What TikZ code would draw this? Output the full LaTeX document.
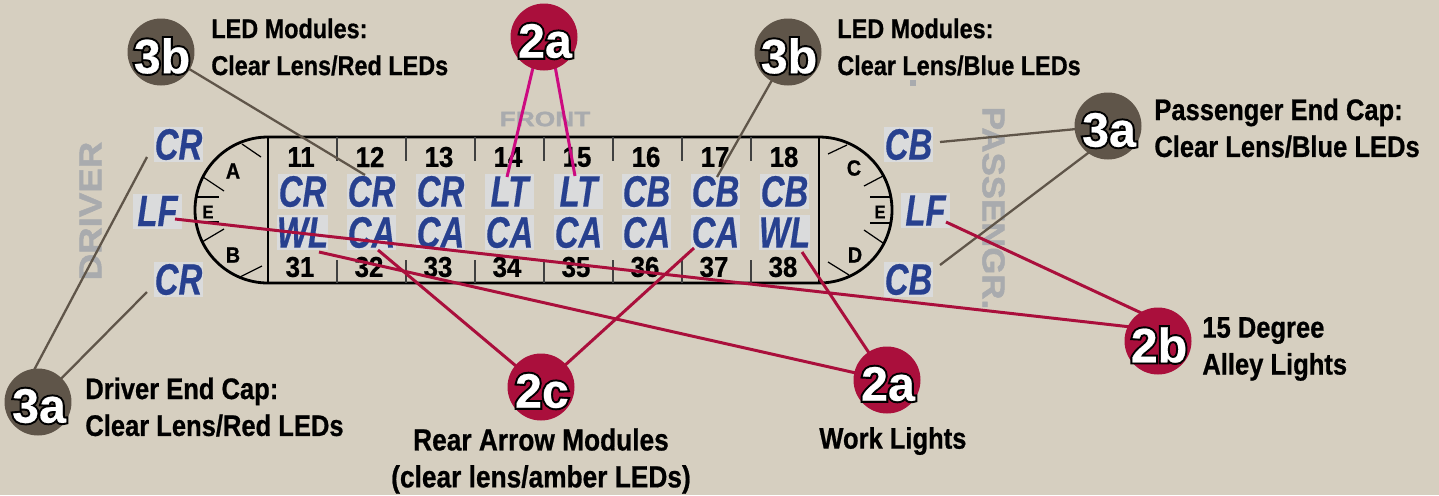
\documentclass[tikz,border=0pt]{standalone}
\usepackage{fontspec}
\setmainfont{Liberation Sans}
\newfontfamily\capfont[FakeStretch=0.86,FakeBold=0.7]{Liberation Sans}
\newfontfamily\numfont[FakeStretch=0.9,FakeBold=0.8]{Liberation Sans}
\newfontfamily\frontfont[FakeStretch=1.27,FakeBold=1.5]{Liberation Sans}
\newfontfamily\driverfont[FakeStretch=1.16,FakeBold=1.5]{Liberation Sans}
\newfontfamily\passfont[FakeStretch=1.1,FakeBold=1.5]{Liberation Sans}
\newfontfamily\tagfont[FakeStretch=0.75,FakeBold=0.4]{Liberation Sans}
\newfontfamily\badgefont[FakeBold=0.5]{Liberation Sans}
\newfontfamily\outlinefont[FakeBold=9]{Liberation Sans}
\definecolor{bgc}{HTML}{D6CFC0}
\definecolor{brownc}{HTML}{5F5549}
\definecolor{redc}{HTML}{AA0F3C}
\definecolor{pinkc}{HTML}{CC0A80}
\definecolor{bluec}{HTML}{27408F}
\definecolor{tagc}{HTML}{DADBDC}
\definecolor{greyc}{HTML}{A9ABAE}
\tikzset{x=0.02cm,y=-0.02cm,
 badge/.style={circle,minimum size=1.34cm,inner sep=0pt},
 brownbadge/.style={badge,fill=brownc},
 redbadge/.style={badge,fill=redc},
 badgetxt/.style={font=\badgefont\bfseries\fontsize{27.5}{28}\selectfont,text=white,inner sep=0pt,xshift=0.02cm,yshift=-0.08cm},
 badgeout/.style={font=\outlinefont\bfseries\fontsize{27.5}{28}\selectfont,text=black,inner sep=0pt,xshift=0.02cm,yshift=-0.08cm},
 capt/.style={font=\capfont\bfseries\fontsize{16.9}{21}\selectfont,align=left,anchor=west,inner sep=0pt},
 captsmall/.style={capt,font=\capfont\bfseries\fontsize{15.5}{21}\selectfont},
 captbig/.style={capt,font=\capfont\bfseries\fontsize{17.4}{21}\selectfont,anchor=center,align=center},
 num/.style={font=\numfont\bfseries\fontsize{16.3}{16}\selectfont,inner sep=0pt},
 tagn/.style={fill=tagc,minimum width=0.98cm,minimum height=0.7cm,inner sep=0pt,text=bluec,font=\tagfont\bfseries\itshape\fontsize{25}{25}\selectfont},
 lett/.style={font=\numfont\bfseries\fontsize{12.5}{12}\selectfont,inner sep=0pt},
 lettsmall/.style={font=\numfont\bfseries\fontsize{10.5}{10}\selectfont,inner sep=0pt},
 brownl/.style={draw=brownc,line width=1.3pt},
 redl/.style={draw=redc,line width=1.7pt},
 pinkl/.style={draw=pinkc,line width=1.7pt},
 bodyl/.style={line width=1.6pt},
 divl/.style={line width=.7pt,draw=black!75},
 tickl/.style={line width=.7pt},
 grl/.style={text=greyc,inner sep=0pt},
}
\begin{document}
\begin{tikzpicture}
\useasboundingbox (0,0) rectangle (1439,495);
\fill[bgc] (0,0) rectangle (1439,495);
% grey labels
\node[grl,font=\frontfont\bfseries\fontsize{11.8}{12}\selectfont] (front) at (545,119) {FRONT};
\node[grl,font=\driverfont\bfseries\fontsize{18}{18}\selectfont,rotate=90] (driver) at (90.5,211) {DRIVER};
\node[grl,font=\passfont\bfseries\fontsize{18}{18}\selectfont,rotate=-90] (pass) at (993.5,208) {PASSENGR.};
\fill[greyc] (910,80) rectangle (916,86);
% body
\draw[bodyl] (268,137) -- (819,137) arc[start angle=-90,end angle=90,radius=73] -- (268,283) arc[start angle=90,end angle=270,radius=73] -- cycle;
\draw[bodyl] (268,137)--(268,283) (819,137)--(819,283);
\foreach \xx in {337,406,475,544,613,682,751}{
 \draw[divl] (\xx,137)--(\xx,161) (\xx,260)--(\xx,283);}
% cap ticks
\foreach \a/\b/\c/\d in {242/144/261/157, 203/177/224/191, 196/197/219/197, 196/222/219/222, 202/242/224/229, 240/277/262/266,
 847/145/828/154, 883/176/864/186, 892/197/870/197, 891/223/870/223, 883/243/864/230, 849/275/828/262}{
 \draw[tickl] (\a,\b)--(\c,\d);}
\node[lett] (la) at (233,171) {A};
\node[lett] (lb) at (233,255) {B};
\node[lettsmall] (le) at (208,212) {E};
\node[lett] (lc) at (854,168) {C};
\node[lett] (ld) at (855,255) {D};
\node[lettsmall] (lf) at (880,212) {E};
% numbers
\foreach \n [count=\i from 0] in {11,12,13,14,15,16,17,18}{
 \node[num] (n\n) at ({301+\i*69},157) {\n};}
\foreach \n [count=\i from 0] in {31,32,33,34,35,36,37,38}{
 \node[num] (n\n) at ({300+\i*69},267) {\n};}
% tags
\foreach \t/\x [count=\i from 11] in {CR/302.5,CR/371.5,CR/440.5,LT/509.5,LT/578.5,CB/646.5,CB/715.5,CB/784.5}{
 \node[tagn] (t\i) at (\x,191.5) {\t};}
\foreach \t/\x [count=\i from 31] in {WL/302.5,CA/371.5,CA/440.5,CA/509.5,CA/578.5,CA/646.5,CA/715.5,WL/784.5}{
 \node[tagn] (t\i) at (\x,232.5) {\t};}
\node[tagn] (dcra) at (178.5,144.5) {CR};
\node[tagn] (dlf) at (157.5,211) {LF};
\node[tagn] (dcrb) at (178.5,279.5) {CR};
\node[tagn] (pcba) at (908.5,144.5) {CB};
\node[tagn] (plf) at (925.5,210.5) {LF};
\node[tagn] (pcbb) at (908.5,279.5) {CB};
% connector ends
\coordinate (e1) at (365,175);
\coordinate (e2) at (717,177);
\coordinate (e3) at (940,142);
\coordinate (e4) at (940,265);
\coordinate (s4) at (1100,144);
\coordinate (e5) at (147,157);
\coordinate (s5) at (33,372);
\coordinate (e6) at (147,292);
\coordinate (e7) at (507,177);
\coordinate (s7) at (536,55);
\coordinate (e8) at (575,176);
\coordinate (s8) at (553,55);
\coordinate (e9) at (175,219);
\coordinate (s9) at (1140,328);
\coordinate (e10) at (946,222);
\coordinate (s10) at (1150,317);
\coordinate (e11) at (319,252);
\coordinate (e12) at (802,252);
\coordinate (e13) at (378,250);
\coordinate (e14) at (694,248);
% connectors
\draw[brownl] (161,52) -- (e1);
\draw[brownl] (788,52) -- (e2);
\draw[brownl] (1108,126) -- (e3);
\draw[brownl] (s4) -- (e4);
\draw[brownl] (s5) -- (e5);
\draw[brownl] (38,402) -- (e6);
\draw[pinkl] (s7) -- (e7);
\draw[pinkl] (s8) -- (e8);
\draw[redl] (s9) -- (e9);
\draw[redl] (s10) -- (e10);
\draw[redl] (887,380) -- (e11);
\draw[redl] (887,380) -- (e12);
\draw[redl] (541,387) -- (e13);
\draw[redl] (541,387) -- (e14);
% badges
\node[brownbadge] (b3bl) at (161,52) {};
\node[redbadge] (b2at) at (544,37) {};
\node[brownbadge] (b3br) at (788,52) {};
\node[brownbadge] (b3ar) at (1108,126) {};
\node[redbadge] (b2b) at (1158,341) {};
\node[redbadge] (b2ab) at (887,380) {};
\node[redbadge] (b2c) at (541,387) {};
\node[brownbadge] (b3al) at (38,402) {};
% badge text
\foreach \n/\t in {b3bl/3b,b2at/2a,b3br/3b,b3ar/3a,b2b/2b,b2ab/2a,b2c/2c,b3al/3a}{
 \node[badgeout] at (\n) {\t};
 \node[badgetxt] at (\n) {\t};}
% captions
\node[captsmall] (c1) at (211,47) {LED Modules:\\Clear Lens/Red LEDs};
\node[captsmall] (c2) at (837,47) {LED Modules:\\Clear Lens/Blue LEDs};
\node[capt] (c3) at (1154,128) {Passenger End Cap:\\Clear Lens/Blue LEDs};
\node[capt] (c4) at (1202,349) {15 Degree\\Alley Lights};
\node[capt] (c5) at (85,407) {Driver End Cap:\\Clear Lens/Red LEDs};
\node[capt] (c6) at (819,441) {Work Lights};
\node[captbig] (c7) at (541,461) {Rear Arrow Modules\\(clear lens/amber LEDs)};
\end{tikzpicture}
\end{document}
